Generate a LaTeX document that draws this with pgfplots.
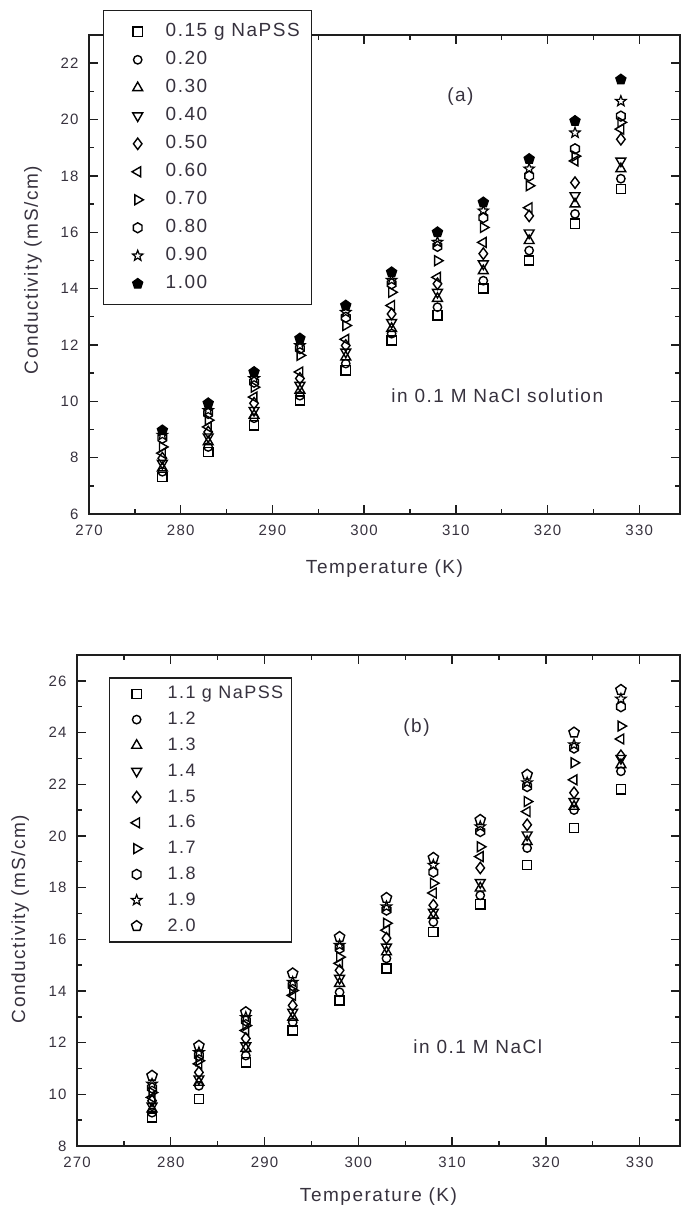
\documentclass[border=0pt]{standalone}
\usepackage{fontspec}
\setmainfont{Liberation Sans}[LetterSpace=8]
\usepackage{pgfplots}
\usepackage{pgfplotstable}
\pgfplotsset{compat=1.18}
\usetikzlibrary{plotmarks}
\definecolor{txt}{RGB}{55,50,62}
\definecolor{axc}{RGB}{30,30,30}

\pgfdeclareplotmark{hexagon}{%
  \pgfpathmoveto{\pgfqpointpolar{90}{\pgfplotmarksize}}%
  \pgfpathlineto{\pgfqpointpolar{150}{\pgfplotmarksize}}%
  \pgfpathlineto{\pgfqpointpolar{210}{\pgfplotmarksize}}%
  \pgfpathlineto{\pgfqpointpolar{270}{\pgfplotmarksize}}%
  \pgfpathlineto{\pgfqpointpolar{330}{\pgfplotmarksize}}%
  \pgfpathlineto{\pgfqpointpolar{30}{\pgfplotmarksize}}%
  \pgfpathclose\pgfusepathqstroke}

\pgfdeclareplotmark{ostar}{%
  \pgfpathmoveto{\pgfqpointpolar{90}{\pgfplotmarksize}}%
  \pgfpathlineto{\pgfqpointpolar{126}{0.42\pgfplotmarksize}}%
  \pgfpathlineto{\pgfqpointpolar{162}{\pgfplotmarksize}}%
  \pgfpathlineto{\pgfqpointpolar{198}{0.42\pgfplotmarksize}}%
  \pgfpathlineto{\pgfqpointpolar{234}{\pgfplotmarksize}}%
  \pgfpathlineto{\pgfqpointpolar{270}{0.42\pgfplotmarksize}}%
  \pgfpathlineto{\pgfqpointpolar{306}{\pgfplotmarksize}}%
  \pgfpathlineto{\pgfqpointpolar{342}{0.42\pgfplotmarksize}}%
  \pgfpathlineto{\pgfqpointpolar{18}{\pgfplotmarksize}}%
  \pgfpathlineto{\pgfqpointpolar{54}{0.42\pgfplotmarksize}}%
  \pgfpathclose\pgfusepathqstroke}

\pgfplotstableread{
T   a    b    c    d    e    f    g    h    i    j
278 7.32 7.50 7.63 7.80 7.98 8.16 8.38 8.69 8.80 8.97
283 8.20 8.38 8.56 8.74 8.91 9.09 9.33 9.57 9.68 9.93
288 9.15 9.40 9.50 9.68 9.93 10.15 10.50 10.68 10.81 11.04
293 10.03 10.20 10.39 10.57 10.81 11.04 11.63 11.87 11.98 12.23
298 11.10 11.34 11.57 11.75 11.98 12.20 12.69 12.98 13.16 13.40
303 12.16 12.40 12.58 12.80 13.10 13.40 13.87 14.17 14.30 14.58
308 13.05 13.34 13.65 13.87 14.17 14.40 14.99 15.50 15.65 16.00
313 14.00 14.28 14.63 14.88 15.24 15.64 16.17 16.52 16.76 17.06
318 15.00 15.35 15.70 15.98 16.58 16.87 17.65 18.00 18.25 18.60
323 16.30 16.65 17.00 17.30 17.76 18.53 18.70 18.96 19.53 19.95
328 17.54 17.90 18.25 18.53 19.30 19.66 19.90 20.12 20.65 21.42
}\topdata

\pgfplotstableread{
T   a    b    c    d    e    f    g    h    i    j
278 9.10 9.29 9.43 9.55 9.75 9.88 10.07 10.25 10.40 10.72
283 9.82 10.33 10.46 10.60 10.85 11.18 11.30 11.50 11.62 11.88
288 11.24 11.50 11.77 11.88 12.16 12.47 12.66 12.85 12.98 13.18
293 12.47 12.79 12.98 13.18 13.44 13.83 14.02 14.21 14.34 14.68
298 13.63 13.95 14.29 14.49 14.80 15.07 15.31 15.65 15.77 16.09
303 14.87 15.26 15.51 15.70 16.04 16.35 16.62 17.13 17.26 17.60
308 16.28 16.67 16.93 17.05 17.32 17.79 18.17 18.60 18.87 19.15
313 17.35 17.70 17.98 18.20 18.76 19.20 19.58 20.17 20.36 20.62
318 18.87 19.53 19.78 20.04 20.43 20.94 21.33 21.91 22.06 22.37
323 20.30 21.00 21.14 21.33 21.67 22.17 22.83 23.40 23.53 24.00
328 21.80 22.50 22.75 23.00 23.10 23.75 24.25 25.00 25.30 25.65
}\botdata

\pgfplotsset{
  panel/.style={
    scale only axis,
    xmin=270,
    xtick={270,280,...,330},
    minor x tick num=1,
    minor y tick num=1,
    axis line style={line width=1.6pt, color=axc},
    every tick/.style={axc, line width=1.4pt},
    major tick length=9pt,
    minor tick length=5pt,
    tick align=inside,
    ticklabel style={font=\fontsize{15}{18}\selectfont, text=txt},
    /pgf/number format/assume math mode=true,
    xticklabel style={yshift=-7pt},
    yticklabel style={xshift=-7pt},
    only marks,
    legend cell align=left,
    clip=false,
  },
  mA/.style={only marks, black, mark=square, mark size=4.6pt, mark options={line width=1.4pt, solid}},
  mB/.style={only marks, black, mark=o, mark size=4.2pt, mark options={line width=1.4pt, solid}},
  mC/.style={only marks, black, mark=triangle, mark size=5.7pt, mark options={line width=1.4pt, solid}},
  mD/.style={only marks, black, mark=triangle, mark size=5.7pt, mark options={line width=1.4pt, solid, rotate=180}},
  mE/.style={only marks, black, mark=diamond, mark size=5.7pt, mark options={line width=1.4pt, solid}},
  mF/.style={only marks, black, mark=triangle, mark size=5.7pt, mark options={line width=1.4pt, solid, rotate=90}},
  mG/.style={only marks, black, mark=triangle, mark size=5.7pt, mark options={line width=1.4pt, solid, rotate=-90}},
  mH/.style={only marks, black, mark=hexagon, mark size=5pt, mark options={line width=1.4pt, solid}},
  mI/.style={only marks, black, mark=ostar, mark size=5.5pt, mark options={line width=1.2pt, solid}},
  mJ/.style={only marks, black, mark=pentagon*, mark size=5.2pt, mark options={line width=1.4pt, solid, fill=black}},
  mJo/.style={only marks, black, mark=pentagon, mark size=5.4pt, mark options={line width=1.4pt, solid}},
}

\begin{document}
\begin{tikzpicture}
\useasboundingbox (0pt,0pt) rectangle (680pt,-1212pt);

% ---------- panel (a)
\begin{axis}[panel,
  at={(89pt,-35pt)}, anchor=north west,
  xmax=334.45, width=591pt, height=479pt,
  ymin=6, ymax=23, ytick={6,8,...,22},
  xlabel={Temperature (K)}, ylabel={Conductivity (mS/cm)},
  every axis x label/.style={at={(axis description cs:0.5,-0.113)}, anchor=center,
     font=\fontsize{19}{22}\selectfont, text=txt},
  every axis y label/.style={at={(axis description cs:-0.095,0.509)}, anchor=center, rotate=90,
     font=\fontsize{19}{22}\selectfont, text=txt},
  legend style={at={(axis description cs:0.0237,1.052)}, anchor=north west,
    draw=axc, line width=1.4pt, fill=white,
    font=\fontsize{19}{22}\selectfont, text=txt,
    inner xsep=12pt, inner ysep=12pt, row sep=10pt,
    nodes={inner sep=0pt, text height=14pt, text depth=4pt}},
  legend image code/.code={\path[draw=none] (0pt,0pt) -- (50pt,0pt);
    \draw[#1] plot coordinates {(22pt,0pt)};},
]
\addplot[mA] table[x=T,y=a]{\topdata}; \addlegendentry{0.15 g NaPSS\hspace{8pt}}
\addplot[mB] table[x=T,y=b]{\topdata}; \addlegendentry{0.20}
\addplot[mC] table[x=T,y=c]{\topdata}; \addlegendentry{0.30}
\addplot[mD] table[x=T,y=d]{\topdata}; \addlegendentry{0.40}
\addplot[mE] table[x=T,y=e]{\topdata}; \addlegendentry{0.50}
\addplot[mF] table[x=T,y=f]{\topdata}; \addlegendentry{0.60}
\addplot[mG] table[x=T,y=g]{\topdata}; \addlegendentry{0.70}
\addplot[mH] table[x=T,y=h]{\topdata}; \addlegendentry{0.80}
\addplot[mI] table[x=T,y=i]{\topdata}; \addlegendentry{0.90}
\addplot[mJ] table[x=T,y=j]{\topdata}; \addlegendentry{1.00}
\node[anchor=center, font=\fontsize{19}{22}\selectfont, text=txt] at (axis cs:310.5,20.83) {(a)};
\node[anchor=west, font=\fontsize{19}{22}\selectfont, text=txt] at (axis cs:302.6,10.21) {in 0.1 M NaCl solution};
\end{axis}

% ---------- panel (b)
\begin{axis}[panel,
  at={(77pt,-655pt)}, anchor=north west,
  xmax=334.3, width=603pt, height=491pt,
  ymin=8, ymax=27, ytick={8,10,...,26},
  xlabel={Temperature (K)}, ylabel={Conductivity (mS/cm)},
  every axis x label/.style={at={(axis description cs:0.5,-0.104)}, anchor=center,
     font=\fontsize{19}{22}\selectfont, text=txt},
  every axis y label/.style={at={(axis description cs:-0.094,0.462)}, anchor=center, rotate=90,
     font=\fontsize{19}{22}\selectfont, text=txt},
  legend style={at={(axis description cs:0.053,0.955)}, anchor=north west,
    draw=axc, line width=1.4pt, fill=white,
    font=\fontsize{18}{21}\selectfont, text=txt,
    inner xsep=8pt, inner ysep=7pt, row sep=7.8pt,
    nodes={inner sep=0pt, text height=14pt, text depth=4pt}},
  legend image code/.code={\path[draw=none] (0pt,0pt) -- (50pt,0pt);
    \draw[#1] plot coordinates {(19pt,0pt)};},
]
\addplot[mA] table[x=T,y=a]{\botdata}; \addlegendentry{1.1 g NaPSS}
\addplot[mB] table[x=T,y=b]{\botdata}; \addlegendentry{1.2}
\addplot[mC] table[x=T,y=c]{\botdata}; \addlegendentry{1.3}
\addplot[mD] table[x=T,y=d]{\botdata}; \addlegendentry{1.4}
\addplot[mE] table[x=T,y=e]{\botdata}; \addlegendentry{1.5}
\addplot[mF] table[x=T,y=f]{\botdata}; \addlegendentry{1.6}
\addplot[mG] table[x=T,y=g]{\botdata}; \addlegendentry{1.7}
\addplot[mH] table[x=T,y=h]{\botdata}; \addlegendentry{1.8}
\addplot[mI] table[x=T,y=i]{\botdata}; \addlegendentry{1.9}
\addplot[mJo] table[x=T,y=j]{\botdata}; \addlegendentry{2.0}
\node[anchor=center, font=\fontsize{19}{22}\selectfont, text=txt] at (axis cs:306.2,24.2) {(b)};
\node[anchor=west, font=\fontsize{19}{22}\selectfont, text=txt] at (axis cs:305.5,11.84) {in 0.1 M NaCl};
\end{axis}
\end{tikzpicture}
\end{document}
